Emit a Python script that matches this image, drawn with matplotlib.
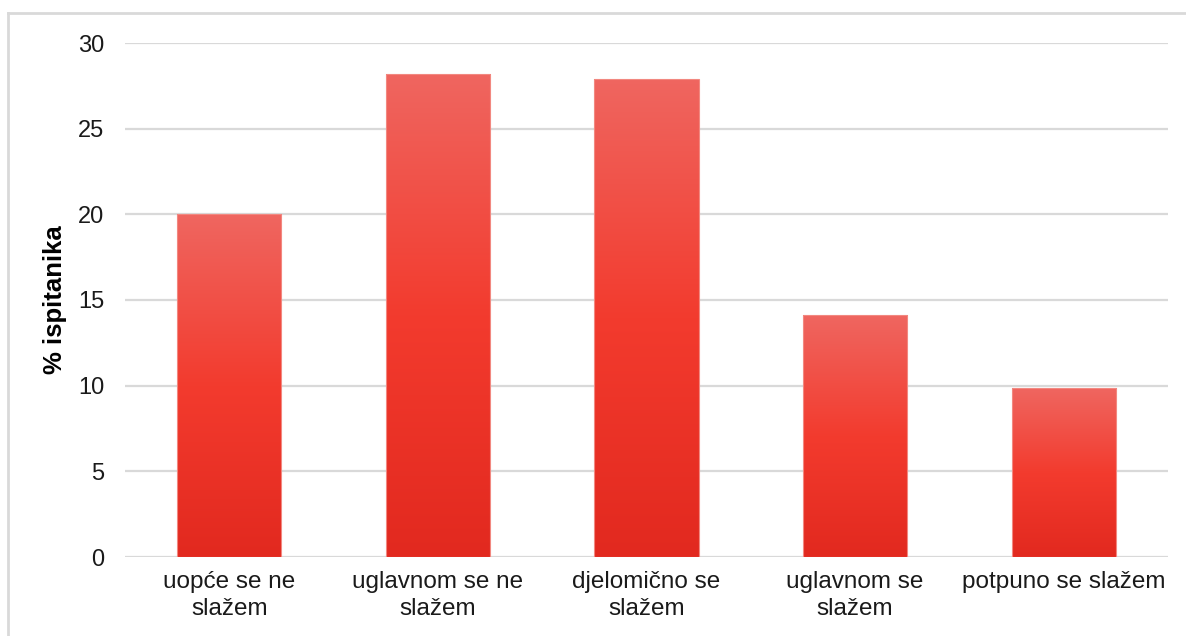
import numpy as np
import matplotlib.pyplot as plt
from matplotlib.colors import LinearSegmentedColormap

# podaci
kategorije = ['uopće se ne\nslažem', 'uglavnom se ne\nslažem', 'djelomično se\nslažem',
              'uglavnom se\nslažem', 'potpuno se slažem']
postotci = [20.0, 28.2, 27.9, 14.1, 9.85]

plt.rcParams['font.family'] = ['Liberation Sans', 'DejaVu Sans']

fig = plt.figure(figsize=(11.86, 6.36), dpi=100)
ax = fig.add_axes([125 / 1186, 1 - 557 / 636, (1168 - 125) / 1186, (557 - 43) / 636])

# okvir slike (samo lijevo i gore su vidljivi)
fig.add_artist(plt.Line2D([8 / 1186, 8 / 1186], [0, 1 - 13 / 636], transform=fig.transFigure,
                          color='#D9D9D9', lw=2))
fig.add_artist(plt.Line2D([8 / 1186, 1], [1 - 13 / 636, 1 - 13 / 636], transform=fig.transFigure,
                          color='#D9D9D9', lw=2))

# gradijent za stupce
cmap = LinearSegmentedColormap.from_list('grad', ['#E2291F', '#F33B2E', '#EF6660'])
grad = np.linspace(0, 1, 256).reshape(-1, 1)

x = np.arange(len(kategorije))
bars = ax.bar(x, postotci, width=0.5, color='none', edgecolor='#F28880', linewidth=0.8, zorder=3)
for b in bars:
    x0, y0, w, h = b.get_x(), b.get_y(), b.get_width(), b.get_height()
    im = ax.imshow(grad, extent=[x0, x0 + w, y0, y0 + h], origin='lower', cmap=cmap,
                   aspect='auto', zorder=2, interpolation='bilinear')
    im.set_clip_path(b)

ax.set_xlim(-0.5, len(kategorije) - 0.5)
ax.set_ylim(0, 30)
ax.set_yticks([0, 5, 10, 15, 20, 25, 30])
ax.set_xticks(x)
ax.set_xticklabels(kategorije, fontsize=17.5, color='#1a1a1a', linespacing=1.3)
ax.tick_params(axis='y', labelsize=17, colors='#1a1a1a', length=0, pad=15)
ax.tick_params(axis='x', length=0, pad=10)

ax.grid(axis='y', color='#D9D9D9', lw=1.6, zorder=0)
ax.set_axisbelow(True)
for s in ax.spines.values():
    s.set_visible(False)

ax.set_ylabel('% ispitanika', fontsize=18.5, fontweight='bold')
ax.yaxis.set_label_coords(-0.0556, 0.5)

fig.savefig('out.png', dpi=100)
